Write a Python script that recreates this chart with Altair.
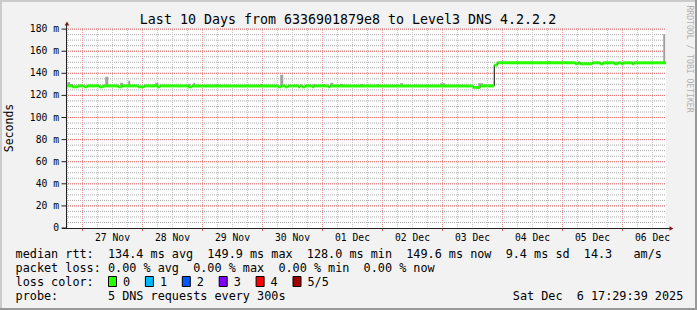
import altair as alt
import pandas as pd

# ---------------- data ----------------
title_text = "Last 10 Days from 6336901879e8 to Level3 DNS 4.2.2.2"
y_axis_title = "Seconds"
watermark = "RRDTOOL / TOBI OETIKER"

# time axis: hours since 2025-11-26 00:00
time_start = 17.4            # Wed 26 Nov 17:29
time_end = 257.4             # Sat 06 Dec 17:29
day_labels = ["27 Nov", "28 Nov", "29 Nov", "30 Nov", "01 Dec",
              "02 Dec", "03 Dec", "04 Dec", "05 Dec", "06 Dec"]
day_label_hours = [36, 60, 84, 108, 132, 156, 180, 204, 228, 252]
day_line_hours = [24, 48, 72, 96, 120, 144, 168, 192, 216, 240]
quarter_line_hours = list(range(18, 258, 6))

y_label_values = [0, 20, 40, 60, 80, 100, 120, 140, 160, 180]
y_label_texts = ["0", "20 m", "40 m", "60 m", "80 m", "100 m", "120 m", "140 m", "160 m", "180 m"]
y_major_lines = [20, 40, 60, 80, 100, 120, 140, 160, 180]
y_minor_lines = list(range(5, 181, 5))

# median rtt (ms), step function: value holds from this hour to the next one
median_hours = [17.4, 19.9, 22.3, 24.7, 25.9, 30.7, 32.3, 38.3, 39.9, 46.3, 48.7,
                53.9, 55.1, 66.3, 67.9, 102.3, 103.5, 105.1, 106.3, 110.3, 111.1,
                111.9, 113.1, 115.9, 116.7, 122.3, 123.1, 180.3, 183.1, 188.7,
                189.9, 221.1, 222.3, 223.1, 227.9, 231.1, 232.3, 236.7, 238.3,
                239.5, 240.3, 243.9, 244.7, 257.4]
median_ms = [128.6, 127.8, 128.6, 127.8, 128.6, 127.8, 128.6, 127.8, 128.6, 127.8, 128.6,
             127.8, 128.6, 127.8, 128.6, 127.8, 128.6, 127.8, 128.6, 127.8, 128.6,
             127.8, 128.6, 127.8, 128.6, 127.8, 128.6, 127.2, 128.6, 147.4,
             149.5, 148.6, 149.5, 148.6, 149.5, 148.6, 149.5, 148.6, 149.5,
             148.6, 149.5, 148.6, 149.5, 149.5]

# smoke (spread of the pings), in ms
smoke_start = [17.9, 19.1, 33.1, 39.1, 42.3, 53.1, 66.3, 68.3, 77.1, 95.1, 103.1, 116.3,
               119.9, 123.1, 127.1, 135.1, 141.9, 151.1, 167.1, 182.3, 210.3, 236.7, 256.3]
smoke_end = [19.1, 20.3, 34.3, 40.3, 43.1, 54.3, 67.1, 69.1, 78.3, 96.3, 104.3, 117.1,
             121.1, 124.3, 128.3, 136.3, 142.7, 152.3, 169.1, 184.3, 211.1, 238.3, 257.1]
smoke_low = [128.6] * 20 + [149.5, 149.5, 149.5]
smoke_high = [132.0, 130.3, 136.9, 131.4, 133.3, 131.4, 130.3, 131.4, 130.3, 130.3, 138.7, 130.3,
              130.3, 131.4, 130.3, 130.3, 130.3, 131.0, 131.0, 131.0, 151.3, 150.5, 175.5]

legend_lines = [
    "median rtt:  134.4 ms avg  149.9 ms max  128.0 ms min  149.6 ms now  9.4 ms sd  14.3   am/s",
    "packet loss: 0.00 % avg  0.00 % max  0.00 % min  0.00 % now",
    "loss color:",
    "probe:       5 DNS requests every 300s",
]
timestamp_text = "Sat Dec  6 17:29:39 2025"
loss_labels = ["0", "1", "2", "3", "4", "5/5"]
loss_colors = ["#26ff00", "#00b8ff", "#0059ff", "#7e00ff", "#ff0000", "#a10000"]

# ---------------- build ----------------
MONO = "DejaVu Sans Mono"
NB = "\u00a0"

xs = alt.Scale(domain=[time_start, time_end], nice=False, zero=False)
ys = alt.Scale(domain=[0, 181], nice=False, zero=False)

one = pd.DataFrame({"k": [0]})

hminor = alt.Chart(pd.DataFrame({"v": y_minor_lines})).mark_rule(
    color="#a8a8a8", strokeDash=[1, 1], strokeWidth=1).encode(
    x=alt.value(0), x2=alt.value(600),
    y=alt.Y("v:Q", scale=ys, axis=None))
hmajor = alt.Chart(pd.DataFrame({"v": y_major_lines})).mark_rule(
    color="#ee7070", strokeDash=[1, 1], strokeWidth=1).encode(
    x=alt.value(0), x2=alt.value(600),
    y=alt.Y("v:Q", scale=ys, axis=None))
vminor = alt.Chart(pd.DataFrame({"h": quarter_line_hours})).mark_rule(
    color="#c4c4c4", strokeDash=[1, 1], strokeWidth=1).encode(
    x=alt.X("h:Q", scale=xs, axis=None), y=alt.value(0), y2=alt.value(200))
vmajor = alt.Chart(pd.DataFrame({"h": day_line_hours})).mark_rule(
    color="#f09090", strokeDash=[1, 1], strokeWidth=1).encode(
    x=alt.X("h:Q", scale=xs, axis=None), y=alt.value(0), y2=alt.value(200))

smoke_df = pd.DataFrame({"s": smoke_start, "e": smoke_end, "lo": smoke_low, "hi": smoke_high})
smoke = alt.Chart(smoke_df).mark_rect(color="#a0a0a0").encode(
    x=alt.X("s:Q", scale=xs, axis=None), x2="e:Q",
    y=alt.Y("lo:Q", scale=ys, axis=None), y2="hi:Q")

med_df = pd.DataFrame({"h": median_hours, "v": median_ms})
med_line = alt.Chart(med_df).mark_line(interpolate="step-after", color="#000000", strokeWidth=1).encode(
    x=alt.X("h:Q", scale=xs, axis=None), y=alt.Y("v:Q", scale=ys, axis=None))

seg_df = pd.DataFrame({"s": median_hours[:-1], "e": median_hours[1:], "v": median_ms[:-1]})
med_seg = alt.Chart(seg_df).mark_rule(color=loss_colors[0], strokeWidth=3, strokeCap="butt").encode(
    x=alt.X("s:Q", scale=xs, axis=None), x2="e:Q", y=alt.Y("v:Q", scale=ys, axis=None))

# y axis: ticks and labels through the y scale
ylab_df = pd.DataFrame({"v": y_label_values, "t": y_label_texts})
yticks = alt.Chart(ylab_df).mark_rule(color="#202020", strokeWidth=1).encode(
    x=alt.value(-4.5), x2=alt.value(0),
    y=alt.Y("v:Q", scale=ys, axis=None))
ylabels = alt.Chart(ylab_df).mark_text(font=MONO, fontSize=9.7, align="right",
                                       baseline="middle", color="#000000").encode(
    x=alt.value(-7), y=alt.Y("v:Q", scale=ys, axis=None), text="t:N")

# axes lines, arrows and ticks
yline = alt.Chart(one).mark_rule(color="#202020", strokeWidth=1).encode(
    x=alt.value(0.5), y=alt.value(-4), y2=alt.value(200))
xline = alt.Chart(one).mark_rule(color="#202020", strokeWidth=1).encode(
    x=alt.value(-4), x2=alt.value(604), y=alt.value(200.5))
arrow_up = alt.Chart(one).mark_point(shape="triangle-up", filled=True, color="#7f1d1d", size=22, opacity=1).encode(
    x=alt.value(1), y=alt.value(-4.5))
arrow_right = alt.Chart(one).mark_point(shape="triangle-right", filled=True, color="#7f1d1d", size=22, opacity=1).encode(
    x=alt.value(605.5), y=alt.value(200.5))
xticks = alt.Chart(pd.DataFrame({"h": day_line_hours})).mark_rule(color="#e06060", strokeWidth=1).encode(
    x=alt.X("h:Q", scale=xs, axis=None), y=alt.value(201), y2=alt.value(203))

xlabels = alt.Chart(pd.DataFrame({"h": day_label_hours, "t": day_labels})).mark_text(
    font=MONO, fontSize=9.7, align="center", baseline="alphabetic", color="#000000").encode(
    x=alt.X("h:Q", scale=xs, axis=None), y=alt.value(213), text="t:N")

title = alt.Chart(one).mark_text(text=title_text.replace(" ", NB), font=MONO, fontSize=13.3,
                                 align="center", baseline="alphabetic", color="#000000").encode(
    x=alt.value(282), y=alt.value(-4))
ytitle = alt.Chart(one).mark_text(text=y_axis_title, font=MONO, fontSize=11.5, angle=270,
                                  align="center", baseline="middle", color="#000000").encode(
    x=alt.value(-56), y=alt.value(100))
wmark = alt.Chart(one).mark_text(text=watermark.replace(" ", NB), font=MONO, fontSize=8.1, angle=90,
                                 align="center", baseline="middle", color="#b0b0b0").encode(
    x=alt.value(622.5), y=alt.value(31))

leg_df = pd.DataFrame({"i": list(range(len(legend_lines))),
                       "t": [s.replace(" ", NB) for s in legend_lines]})
legend_text = alt.Chart(leg_df).mark_text(font=MONO, fontSize=11.8, align="left",
                                          baseline="alphabetic", color="#000000").transform_calculate(
    yy="230.3 + datum.i * 13.85").encode(
    x=alt.value(-50.4), y=alt.Y("yy:Q", scale=None), text="t:N")
stamp = alt.Chart(one).mark_text(text=timestamp_text.replace(" ", NB), font=MONO, fontSize=11.8,
                                 align="left", baseline="alphabetic", color="#000000").encode(
    x=alt.value(446.8), y=alt.value(271.85))

sw_df = pd.DataFrame({"i": list(range(len(loss_labels))), "lab": loss_labels, "c": loss_colors})
swatches = alt.Chart(sw_df).mark_rect(stroke="#000000", strokeWidth=1).transform_calculate(
    x0="42.5 + datum.i * 36.9", x1="42.5 + datum.i * 36.9 + 8").encode(
    x=alt.X("x0:Q", scale=None), x2="x1:Q",
    y=alt.value(248.5), y2=alt.value(258.5),
    color=alt.Color("c:N", scale=None))
sw_labels = alt.Chart(sw_df).mark_text(font=MONO, fontSize=11.8, align="left",
                                       baseline="alphabetic", color="#000000").transform_calculate(
    xl="57 + datum.i * 36.9").encode(
    x=alt.X("xl:Q", scale=None), y=alt.value(258.05), text="lab:N")

# 3D frame of the image
b_top = alt.Chart(one).mark_rule(color="#cbcbcb", strokeWidth=2).encode(
    x=alt.value(-66), x2=alt.value(631), y=alt.value(-27))
b_left = alt.Chart(one).mark_rule(color="#cbcbcb", strokeWidth=2).encode(
    x=alt.value(-65), y=alt.value(-28), y2=alt.value(282))
b_bottom = alt.Chart(one).mark_rule(color="#999999", strokeWidth=2).encode(
    x=alt.value(-66), x2=alt.value(631), y=alt.value(281))
b_right = alt.Chart(one).mark_rule(color="#999999", strokeWidth=2).encode(
    x=alt.value(630), y=alt.value(-28), y2=alt.value(282))

chart = alt.layer(
    hminor, vminor, hmajor, vmajor, smoke, med_line, med_seg,
    yticks, ylabels, yline, xline, arrow_up, arrow_right, xticks, xlabels,
    title, ytitle, wmark, legend_text, stamp, swatches, sw_labels,
    b_top, b_left, b_bottom, b_right,
).properties(
    width=600, height=200,
    padding={"left": 66, "top": 28, "right": 31, "bottom": 82},
    autosize="none",
    background="#f2f2f2",
).configure_view(stroke=None, fill="#ffffff")

chart.save("out.html", embed_options={"renderer": "svg", "actions": False})
